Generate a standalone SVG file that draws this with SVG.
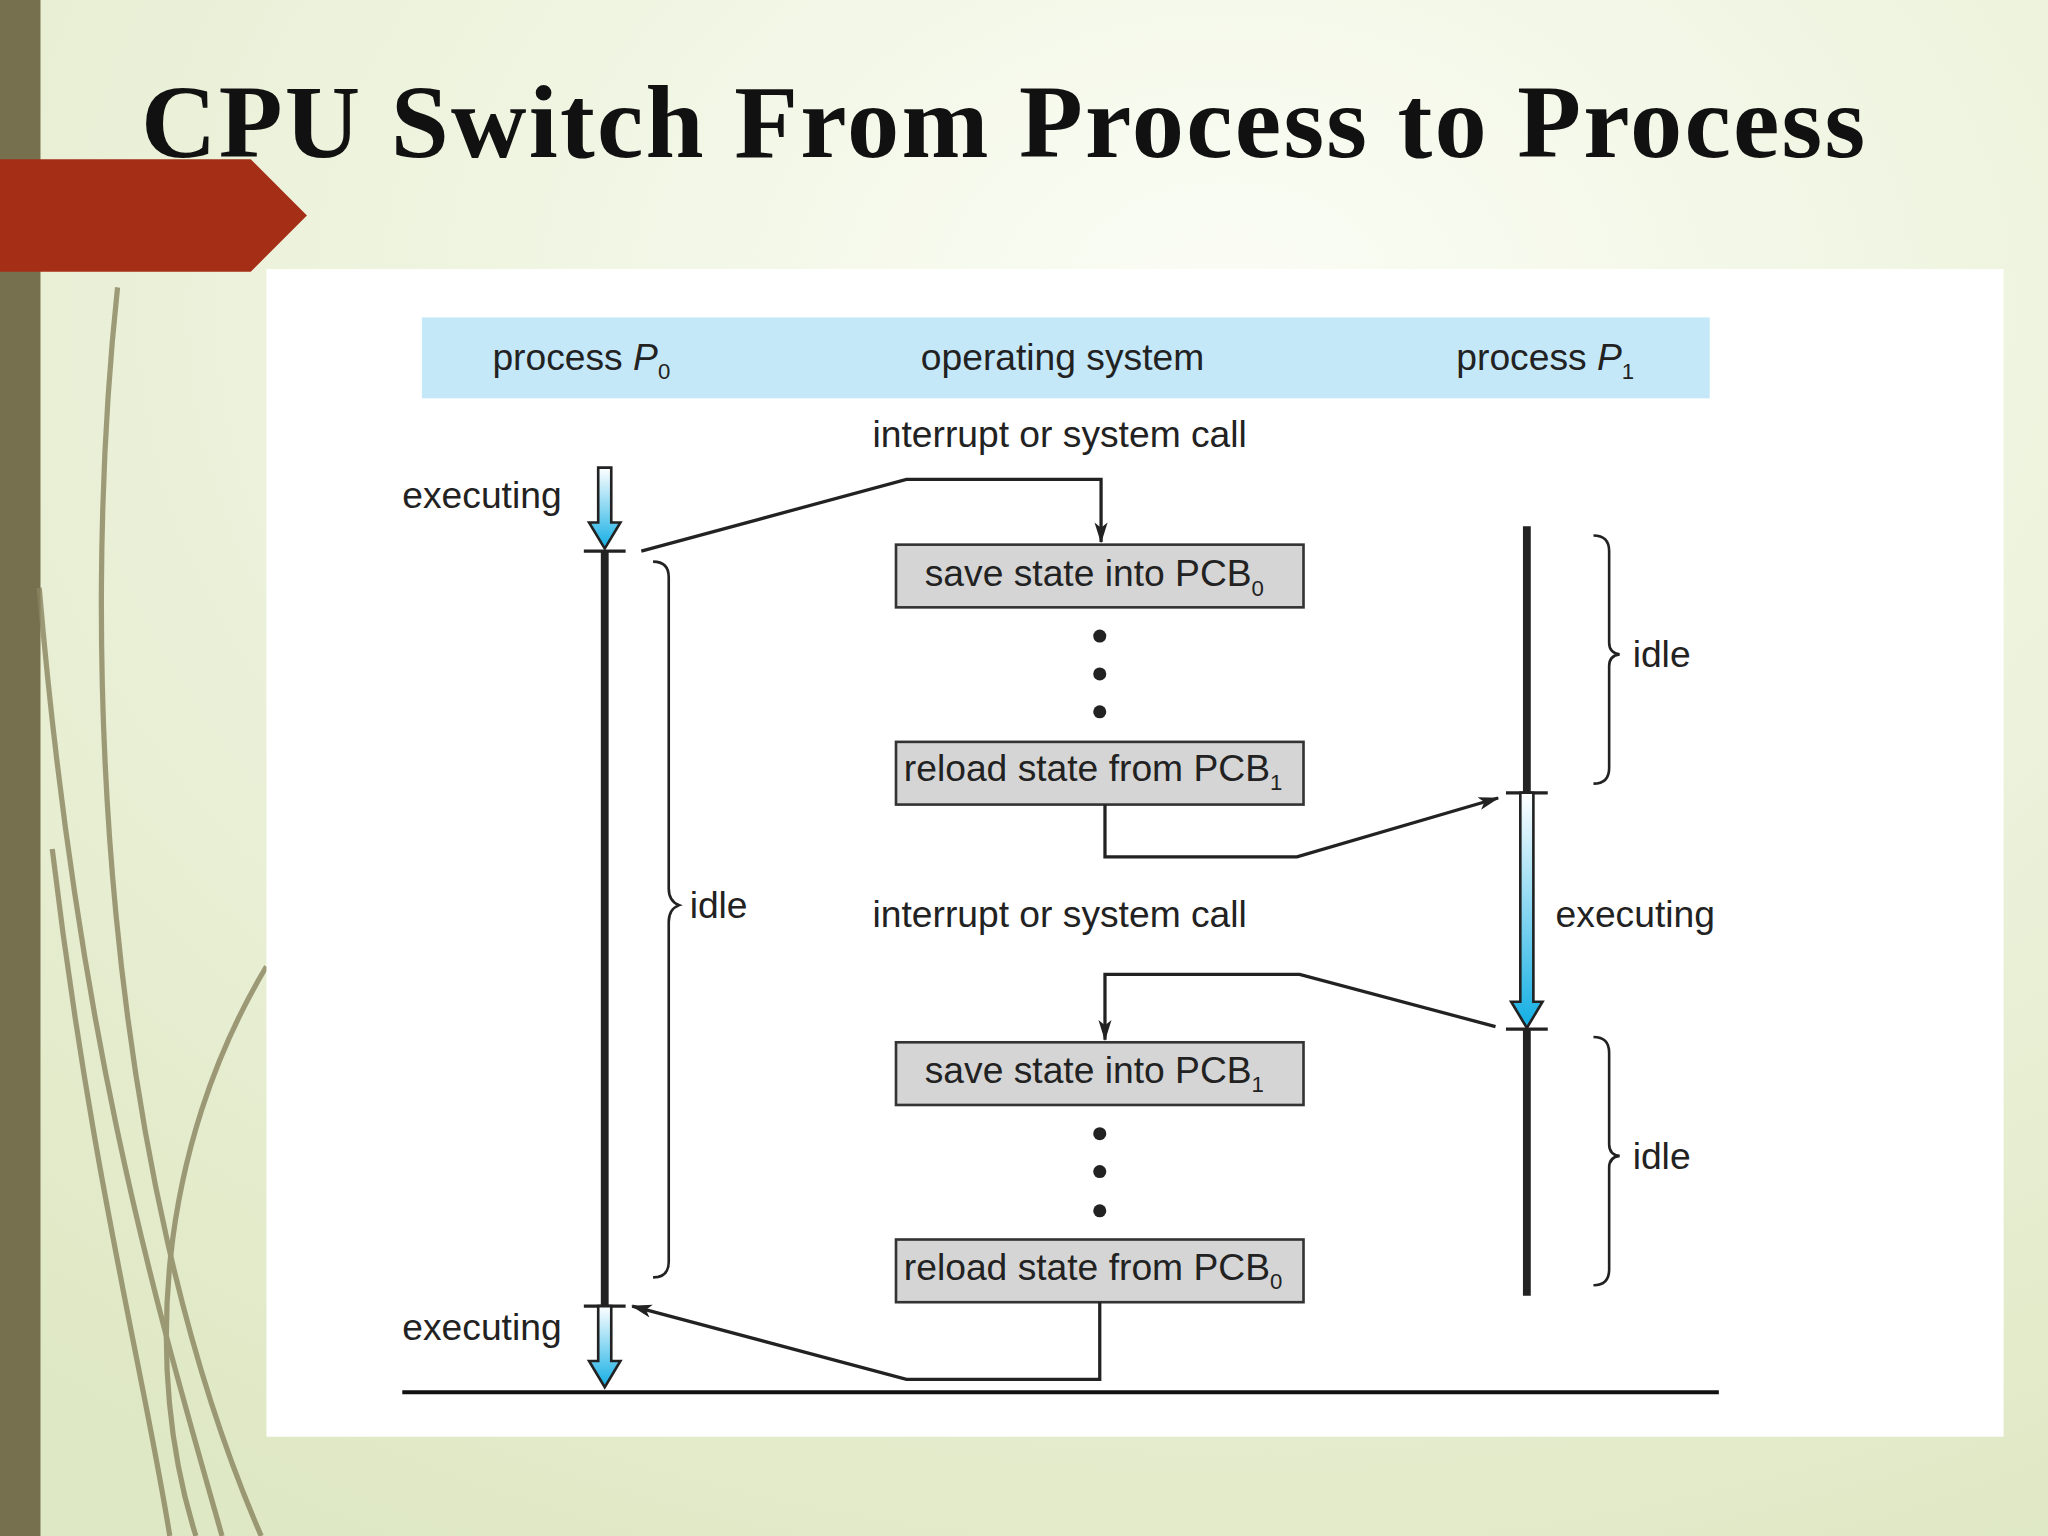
<svg xmlns="http://www.w3.org/2000/svg" width="2048" height="1536" viewBox="0 0 2048 1536">
<defs>
<radialGradient id="bg" cx="0.6" cy="0.2" r="0.9"><stop offset="0" stop-color="#fbfdf5"/><stop offset="1" stop-color="#dfe8c4"/></radialGradient>
<linearGradient id="blue" x1="0" y1="0" x2="0" y2="1"><stop offset="0" stop-color="#ffffff"/><stop offset="1" stop-color="#12aee4"/></linearGradient>
<marker id="ah" markerWidth="16" markerHeight="12" refX="15" refY="6" orient="auto" markerUnits="userSpaceOnUse"><path d="M0,1 L16,6 L0,11 L4,6 Z" fill="#222"/></marker>
<style>
.t{font-family:"Liberation Sans",Arial,sans-serif;font-size:28.5px;fill:#222}
.ln{stroke:#222;stroke-width:2.5;fill:none}
.bar{stroke:#222;stroke-width:6}
.box{fill:#d5d5d5;stroke:#333;stroke-width:2}
.br{stroke:#222;stroke-width:2;fill:none}
</style>
</defs>
<g transform="scale(1.306122)">
<rect width="1568" height="1176" fill="url(#bg)"/>
<rect x="0" y="0" width="31" height="1176" fill="#77704f"/>
<g fill="none" stroke="#8a8460" stroke-width="4" opacity="0.8">
<path d="M90,220 C60,500 80,900 200,1176"/>
<path d="M30,450 C60,800 120,1000 170,1176"/>
<path d="M40,650 C70,900 110,1050 130,1176"/>
<path d="M204,740 C120,880 110,1050 150,1176"/>
</g>
<path d="M0,122 L192,122 L235,165 L192,208 L0,208 Z" fill="#a52e17"/>
<text x="108" y="120" font-family="Liberation Serif,serif" font-weight="bold" font-size="80" fill="#111" textLength="1320">CPU Switch From Process to Process</text>
<rect x="204" y="206" width="1330" height="894" fill="#ffffff"/>
<rect x="323" y="243" width="986" height="62" fill="#c5e8f8"/>
<text class="t" x="377" y="283">process <tspan font-style="italic">P</tspan><tspan font-size="17" dy="7">0</tspan></text>
<text class="t" x="705" y="283">operating system</text>
<text class="t" x="1115" y="283">process <tspan font-style="italic">P</tspan><tspan font-size="17" dy="7">1</tspan></text>
<text class="t" x="668" y="342">interrupt or system call</text>
<text class="t" x="668" y="710">interrupt or system call</text>
<text class="t" x="308" y="389">executing</text>
<text class="t" x="308" y="1026">executing</text>
<text class="t" x="1191" y="710">executing</text>
<text class="t" x="528" y="703">idle</text>
<text class="t" x="1250" y="511">idle</text>
<text class="t" x="1250" y="895">idle</text>
<g id="p0">
<path d="M458,358 h10 v42 h7 l-12,20 l-12,-20 h7 Z" fill="url(#blue)" stroke="#222" stroke-width="2"/>
<line class="bar" x1="463" y1="422" x2="463" y2="1000"/>
<line class="ln" x1="447" y1="422" x2="479" y2="422"/>
<line class="ln" x1="447" y1="1000" x2="479" y2="1000"/>
<path d="M458,1000 h10 v42 h7 l-12,20 l-12,-20 h7 Z" fill="url(#blue)" stroke="#222" stroke-width="2"/>
<path class="br" d="M500,430 q12,0 12,12 v238 q0,10 8,13 q-8,3 -8,13 v260 q0,12 -12,12"/>
</g>
<g id="p1">
<line class="bar" x1="1169" y1="403" x2="1169" y2="607"/>
<line class="ln" x1="1153" y1="607" x2="1185" y2="607"/>
<path d="M1164,607 h10 v160 h7 l-12,20 l-12,-20 h7 Z" fill="url(#blue)" stroke="#222" stroke-width="2"/>
<line class="ln" x1="1153" y1="788" x2="1185" y2="788"/>
<line class="bar" x1="1169" y1="788" x2="1169" y2="992"/>
<path class="br" d="M1220,410 q12,0 12,12 v70 q0,8 8,9 q-8,1 -8,9 v78 q0,12 -12,12"/>
<path class="br" d="M1220,794 q12,0 12,12 v70 q0,8 8,9 q-8,1 -8,9 v78 q0,12 -12,12"/>
</g>
<g id="os">
<rect class="box" x="686" y="417" width="312" height="48"/>
<text class="t" x="708" y="449">save state into PCB<tspan font-size="17" dy="7">0</tspan></text>
<rect class="box" x="686" y="568" width="312" height="48"/>
<text class="t" x="692" y="598">reload state from PCB<tspan font-size="17" dy="7">1</tspan></text>
<rect class="box" x="686" y="798" width="312" height="48"/>
<text class="t" x="708" y="829">save state into PCB<tspan font-size="17" dy="7">1</tspan></text>
<rect class="box" x="686" y="949" width="312" height="48"/>
<text class="t" x="692" y="980">reload state from PCB<tspan font-size="17" dy="7">0</tspan></text>
<g fill="#222"><circle cx="842" cy="487" r="5"/><circle cx="842" cy="516" r="5"/><circle cx="842" cy="545" r="5"/>
<circle cx="842" cy="868" r="5"/><circle cx="842" cy="897" r="5"/><circle cx="842" cy="927" r="5"/></g>
</g>
<g id="connectors">
<path class="ln" d="M491,422 L694,367 H843 V415" marker-end="url(#ah)"/>
<path class="ln" d="M846,616 V656 H993 L1147,611" marker-end="url(#ah)"/>
<path class="ln" d="M1145,786 L995,746 H846 V796" marker-end="url(#ah)"/>
<path class="ln" d="M842,997 V1056 H694 L484,1000" marker-end="url(#ah)"/>
<line x1="308" y1="1066" x2="1316" y2="1066" stroke="#111" stroke-width="3"/>
</g>
</g>
</svg>
